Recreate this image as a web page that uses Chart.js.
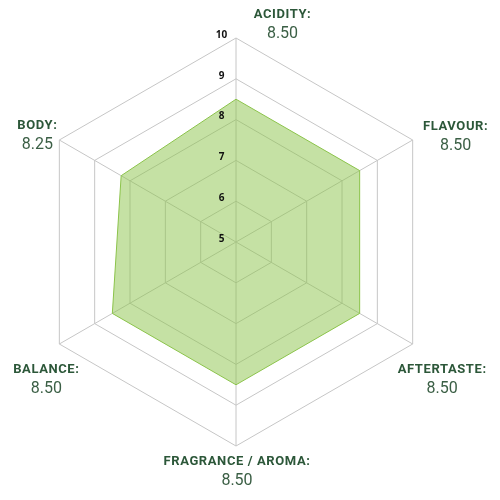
<!DOCTYPE html>
<html>
<head>
<meta charset="utf-8">
<script src="https://cdn.jsdelivr.net/npm/chart.js@4.4.1/dist/chart.umd.min.js"></script>
<style>
  html, body { margin: 0; padding: 0; background: #ffffff; }
  #wrap { width: 500px; height: 500px; position: relative; }
</style>
</head>
<body>
<div id="wrap"><canvas id="radar"></canvas></div>
<script>
// Cupping attributes, clockwise from the top
const categories = ['ACIDITY:', 'FLAVOUR:', 'AFTERTASTE:', 'FRAGRANCE / AROMA:', 'BALANCE:', 'BODY:'];
const scores = [8.50, 8.50, 8.50, 8.50, 8.50, 8.25];
const tickValues = [5, 6, 7, 8, 9, 10];

// Where each attribute caption sits relative to its spoke tip
const captionOffsets = [
  [46.5, -23], [43, -13], [29.5, 26], [1, 16], [-13, 26], [-22, -14]
];

const TITLE_COLOR = '#2c5739';
const VALUE_COLOR = '#3b5f45';

// Draws the scale numbers just left of the vertical spoke
const tickLabelPlugin = {
  id: 'tickLabels',
  afterDatasetsDraw(chart) {
    const scale = chart.scales.r;
    const ctx = chart.ctx;
    ctx.save();
    ctx.font = 'bold 10px "Open Sans", sans-serif';
    ctx.fillStyle = '#111111';
    ctx.textAlign = 'center';
    ctx.textBaseline = 'middle';
    tickValues.forEach(v => {
      const d = scale.getDistanceFromCenterForValue(v);
      ctx.fillText(String(v), scale.xCenter - 14.5, scale.yCenter - d - 3);
    });
    ctx.restore();
  }
};

// Two-line captions: attribute name and its score
const captionPlugin = {
  id: 'captions',
  afterDraw(chart) {
    const scale = chart.scales.r;
    const ctx = chart.ctx;
    ctx.save();
    ctx.textAlign = 'center';
    ctx.textBaseline = 'middle';
    categories.forEach((name, i) => {
      const tip = scale.getPointPosition(i, scale.getDistanceFromCenterForValue(scale.max));
      const x = tip.x + captionOffsets[i][0];
      const y = tip.y + captionOffsets[i][1];
      ctx.font = 'bold 13px Roboto, sans-serif';
      ctx.fillStyle = TITLE_COLOR;
      if ('letterSpacing' in ctx) ctx.letterSpacing = '0.6px';
      ctx.fillText(name, x, y);
      if ('letterSpacing' in ctx) ctx.letterSpacing = '0px';
      ctx.font = '16px Roboto, sans-serif';
      ctx.fillStyle = VALUE_COLOR;
      ctx.fillText(scores[i].toFixed(2), x, y + 18.5);
    });
    ctx.restore();
  }
};

new Chart(document.getElementById('radar'), {
  type: 'radar',
  data: {
    labels: categories,
    datasets: [{
      data: scores,
      backgroundColor: 'rgba(139, 195, 74, 0.5)',
      borderColor: '#8bc34a',
      borderWidth: 1,
      pointRadius: 0,
      pointHoverRadius: 0,
      fill: true
    }]
  },
  options: {
    responsive: true,
    maintainAspectRatio: false,
    animation: false,
    events: [],
    layout: { padding: { left: 32, right: 59, top: 38, bottom: 53 } },
    plugins: {
      legend: { display: false },
      tooltip: { enabled: false }
    },
    scales: {
      r: {
        min: 5,
        max: 10,
        ticks: { display: false, stepSize: 1 },
        pointLabels: { display: false },
        grid: { color: '#c6c6c6', lineWidth: 1 },
        angleLines: { color: '#c6c6c6', lineWidth: 1 }
      }
    }
  },
  plugins: [tickLabelPlugin, captionPlugin]
});
</script>
</body>
</html>
